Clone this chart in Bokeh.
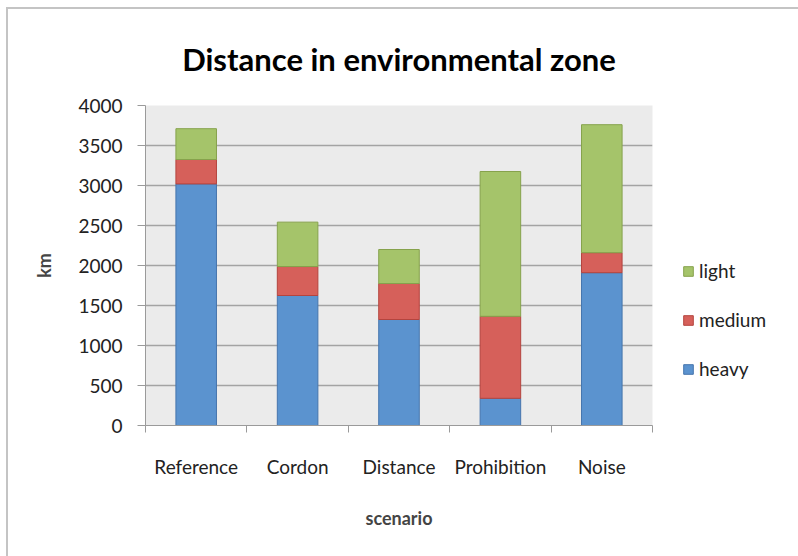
from bokeh.plotting import figure
from bokeh.models import ColumnDataSource, FixedTicker, Legend, LegendItem, Range1d
from bokeh.embed import file_html
from bokeh.resources import INLINE

# ---- data ----
scenarios = ["Reference", "Cordon", "Distance", "Prohibition", "Noise"]
heavy = [3020, 1625, 1325, 340, 1910]
medium = [305, 362, 450, 1025, 250]
light = [385, 555, 425, 1810, 1600]
series = ["heavy", "medium", "light"]
y_ticks = [0, 500, 1000, 1500, 2000, 2500, 3000, 3500, 4000]

fills = {"heavy": "#5b93cf", "medium": "#d6605a", "light": "#a5c46a"}
lines = {"heavy": "#4675ad", "medium": "#b4443e", "light": "#86a24c"}

FONT = "Lato"

x_centers = [i + 0.5 for i in range(len(scenarios))]
x_bounds = list(range(len(scenarios) + 1))
source = ColumnDataSource(dict(x=x_centers, heavy=heavy, medium=medium, light=light))

p = figure(frame_width=507, frame_height=320,
           min_border_left=137, min_border_right=146,
           min_border_top=96, min_border_bottom=131,
           x_range=Range1d(0, len(scenarios)), y_range=Range1d(0, 4000),
           output_backend="svg", toolbar_location=None,
           title="Distance in environmental zone",
           styles={"margin-left": "6px", "margin-top": "7px",
                   "border-left": "2px solid #c4c4c4",
                   "border-top": "2px solid #c4c4c4"})

renderers = p.vbar_stack(series, x="x", width=0.40, source=source,
                         fill_color=[fills[s] for s in series],
                         line_color=[lines[s] for s in series], line_width=1)

# title
p.title.text_font = FONT
p.title.text_font_size = "31px"
p.title.text_font_style = "bold"
p.title.align = "center"
p.title.standoff = 55
p.title.text_color = "#000000"

# frame / grid
p.background_fill_color = "#ebebeb"
p.border_fill_color = "white"
p.outline_line_color = None
p.xgrid.visible = False
p.ygrid.ticker = FixedTicker(ticks=y_ticks)
p.ygrid.grid_line_color = "#a3a3a3"
p.ygrid.grid_line_width = 1.5

# y axis
p.yaxis.ticker = FixedTicker(ticks=y_ticks)
p.yaxis.axis_label = "km"
p.yaxis.axis_label_text_font = FONT
p.yaxis.axis_label_text_font_size = "18px"
p.yaxis.axis_label_text_font_style = "bold"
p.yaxis.axis_label_standoff = 20
p.yaxis.major_label_text_font = FONT
p.yaxis.major_label_text_font_size = "19px"
p.yaxis.major_label_text_color = "#222222"
p.yaxis.major_label_standoff = 15
p.yaxis.major_tick_out = 8
p.yaxis.major_tick_in = 0
p.yaxis.minor_tick_line_color = None
p.yaxis.axis_line_color = "#9a9a9a"
p.yaxis.major_tick_line_color = "#9a9a9a"

# x axis: labels at category centres, ticks at boundaries
p.xaxis.ticker = FixedTicker(ticks=x_centers, minor_ticks=x_bounds)
p.xaxis.major_label_overrides = {xc: s for xc, s in zip(x_centers, scenarios)}
p.xaxis.major_tick_line_color = None
p.xaxis.minor_tick_out = 7
p.xaxis.minor_tick_in = 0
p.xaxis.minor_tick_line_color = "#9a9a9a"
p.xaxis.axis_line_color = "#9a9a9a"
p.xaxis.major_label_text_font = FONT
p.xaxis.major_label_text_font_size = "19px"
p.xaxis.major_label_text_color = "#222222"
p.xaxis.major_label_standoff = 22
p.xaxis.axis_label = "scenario"
p.xaxis.axis_label_text_font = FONT
p.xaxis.axis_label_text_font_size = "18px"
p.xaxis.axis_label_text_font_style = "bold"
p.xaxis.axis_label_standoff = 26

# legend (top to bottom: light, medium, heavy)
items = [LegendItem(label=s, renderers=[r]) for s, r in zip(series, renderers)][::-1]
legend = Legend(items=items, location=(30, 45),
                glyph_width=12, glyph_height=12, label_standoff=5,
                spacing=26, padding=0, margin=0,
                border_line_color=None, background_fill_alpha=0,
                label_text_font=FONT, label_text_font_size="19px",
                label_text_color="#222222")
p.add_layout(legend, "right")

open("out.html", "w").write(file_html(p, INLINE))
